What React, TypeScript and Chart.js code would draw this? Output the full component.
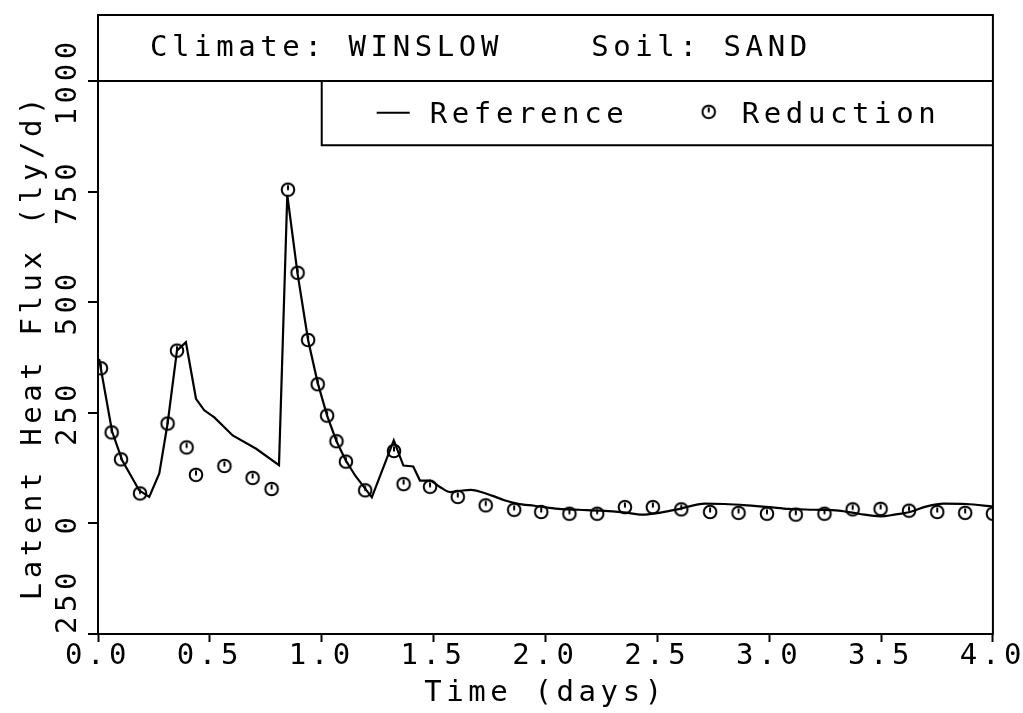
import React, { useEffect, useRef } from 'react';
import { Chart, registerables } from 'chart.js';

Chart.register(...registerables);

// ---- data ----
const refEarlyX = [0.005, 0.063, 0.108, 0.184, 0.229, 0.274, 0.311, 0.353, 0.393, 0.438, 0.475, 0.52, 0.602, 0.707, 0.809, 0.846, 0.892, 0.939, 0.982, 1.024, 1.066, 1.108, 1.15, 1.224, 1.322, 1.365, 1.409, 1.439, 1.489];
const refEarlyY = [372, 208, 143, 75, 60, 113, 226, 391, 410, 282, 256, 240, 199, 169, 132, 743, 565, 415, 318, 244, 186, 142, 108, 59, 188, 131, 129, 97, 97];

const refLateX = [1.489, 1.53, 1.574, 1.62, 1.667, 1.72, 1.761, 1.82, 1.873, 1.95, 2.06, 2.15, 2.247, 2.35, 2.434, 2.52, 2.6, 2.713, 2.8, 2.9, 3.0, 3.087, 3.2, 3.311, 3.4, 3.498, 3.56, 3.629, 3.7, 3.779, 3.88, 4.0];
const refLateY = [97, 82, 71, 74, 76, 70, 63, 52, 45, 40, 33, 31, 29, 25, 20, 25, 33, 45, 44, 41, 37, 33, 31, 29, 22, 16, 20, 26, 38, 45, 44, 38];

const redX = [0.013, 0.061, 0.103, 0.188, 0.311, 0.353, 0.396, 0.438, 0.565, 0.691, 0.776, 0.849, 0.892, 0.939, 0.982, 1.024, 1.066, 1.108, 1.194, 1.323, 1.366, 1.484, 1.608, 1.733, 1.86, 1.981, 2.107, 2.231, 2.355, 2.48, 2.607, 2.736, 2.863, 2.99, 3.119, 3.247, 3.373, 3.498, 3.625, 3.751, 3.876, 4.0];
const redY = [351, 206, 145, 68, 226, 391, 172, 110, 130, 103, 78, 755, 567, 415, 315, 244, 186, 140, 75, 164, 89, 83, 60, 41, 31, 26, 22, 22, 37, 37, 32, 26, 24, 22, 20, 22, 32, 33, 29, 26, 24, 22];

const xTickValues = [0, 0.5, 1, 1.5, 2, 2.5, 3, 3.5, 4];
const xTickLabels = ['0.0', '0.5', '1.0', '1.5', '2.0', '2.5', '3.0', '3.5', '4.0'];
const yTickValues = [-250, 0, 250, 500, 750, 1000];
const yTickLabels = ['250', '0', '250', '500', '750', '1000'];

const titleText = 'Climate: WINSLOW    Soil: SAND';
const legendLabels = ['Reference', 'Reduction'];
const xTitle = 'Time (days)';
const yTitle = 'Latent Heat Flux (ly/d)';

// ---- styles ----
const FAMILY = "'DejaVu Sans Mono', monospace";
const FSIZE = 29;
const LS = '4.6px';
const font = { family: FAMILY, size: FSIZE, lineHeight: 1.2 };

function yLabel(index: number): string {
  return index === 0 ? '   ' + yTickLabels[0] : yTickLabels[index];
}

function measureWidest(): number {
  const c = document.createElement('canvas');
  const g = c.getContext('2d') as any;
  g.font = `${FSIZE}px ${FAMILY}`;
  g.letterSpacing = LS;
  let w = 0;
  yTickLabels.forEach((_, i) => {
    w = Math.max(w, g.measureText(yLabel(i)).width);
  });
  return w;
}

function makeMarker(): HTMLCanvasElement {
  const c = document.createElement('canvas');
  c.width = 18;
  c.height = 18;
  const g = c.getContext('2d')!;
  g.strokeStyle = '#000';
  g.lineWidth = 2;
  g.beginPath();
  g.arc(9, 9, 6.3, 0, Math.PI * 2);
  g.stroke();
  g.beginPath();
  g.moveTo(9, 4.5);
  g.lineTo(9, 9.5);
  g.stroke();
  return c;
}

export default function App() {
  const ref = useRef<HTMLCanvasElement | null>(null);

  useEffect(() => {
    const canvas = ref.current;
    if (!canvas) return;
    const marker = makeMarker();
    const widest = measureWidest();
    const yTickPad = 98 - 10 - widest / 2 - 68;

    const framePlugin = {
      id: 'frame',
      beforeUpdate(chart: any) {
        chart.ctx.letterSpacing = LS;
      },
      beforeDraw(chart: any) {
        chart.ctx.letterSpacing = LS;
      },
      afterDraw(chart: any) {
        const { ctx, chartArea: a, scales } = chart;
        ctx.save();
        ctx.letterSpacing = LS;
        ctx.strokeStyle = '#000';
        ctx.lineWidth = 2;
        ctx.strokeRect(a.left, a.top, a.right - a.left, a.bottom - a.top);
        const y1000 = scales.y.getPixelForValue(1000);
        const lx = scales.x.getPixelForValue(1.0);
        const lb = y1000 + 64;
        ctx.beginPath();
        ctx.moveTo(lx, y1000);
        ctx.lineTo(lx, lb);
        ctx.lineTo(a.right, lb);
        ctx.stroke();
        ctx.font = `${FSIZE}px ${FAMILY}`;
        ctx.fillStyle = '#000';
        ctx.textAlign = 'left';
        ctx.textBaseline = 'alphabetic';
        ctx.fillText(titleText, a.left + 52, a.top + 41);
        const ly = y1000 + 31.5;
        ctx.beginPath();
        ctx.moveTo(lx + 55, ly);
        ctx.lineTo(lx + 88, ly);
        ctx.stroke();
        ctx.fillText(legendLabels[0], lx + 108, y1000 + 42);
        ctx.drawImage(marker, lx + 387 - 9, ly - 1 - 9);
        ctx.fillText(legendLabels[1], lx + 420, y1000 + 42);
        ctx.restore();
      },
    };

    const chart = new Chart(canvas, {
      type: 'line',
      data: {
        datasets: [
          {
            label: legendLabels[0],
            data: refEarlyX.map((x, i) => ({ x, y: refEarlyY[i] })),
            borderColor: '#000',
            borderWidth: 2.2,
            pointRadius: 0,
            tension: 0,
            fill: false,
          },
          {
            label: legendLabels[0],
            data: refLateX.map((x, i) => ({ x, y: refLateY[i] })),
            borderColor: '#000',
            borderWidth: 2.2,
            pointRadius: 0,
            cubicInterpolationMode: 'monotone',
            fill: false,
          },
          {
            label: legendLabels[1],
            data: redX.map((x, i) => ({ x, y: redY[i] })),
            showLine: false,
            pointStyle: marker as any,
            pointRadius: 8,
            borderColor: '#000',
            backgroundColor: 'rgba(0,0,0,0)',
          },
        ],
      } as any,
      options: {
        animation: false,
        responsive: false,
        maintainAspectRatio: false,
        layout: { padding: { top: 15, right: 30, left: 0, bottom: 0 }, autoPadding: false } as any,
        plugins: {
          legend: { display: false },
          title: { display: false },
          tooltip: { enabled: false },
        },
        scales: {
          x: {
            type: 'linear',
            min: 0,
            max: 4,
            afterBuildTicks: (s: any) => {
              s.ticks = xTickValues.map((v) => ({ value: v }));
            },
            afterFit: (s: any) => {
              s.height = 79;
            },
            ticks: {
              callback: (_v: any, i: number) => xTickLabels[i],
              font,
              color: '#000',
              padding: -3,
              maxRotation: 0,
              minRotation: 0,
              autoSkip: false,
            },
            grid: {
              drawOnChartArea: false,
              drawTicks: true,
              tickLength: 8,
              tickColor: '#000',
              tickWidth: 2,
            },
            border: { display: true, color: '#000', width: 2 },
            title: {
              display: true,
              text: xTitle,
              font,
              color: '#000',
              padding: { top: 0, bottom: 2 },
            },
          },
          y: {
            type: 'linear',
            min: -250,
            max: 1150,
            afterBuildTicks: (s: any) => {
              s.ticks = yTickValues.map((v) => ({ value: v }));
            },
            afterFit: (s: any) => {
              s.width = 98;
            },
            ticks: {
              callback: (_v: any, i: number) => yLabel(i),
              font,
              color: '#000',
              minRotation: 90,
              maxRotation: 90,
              crossAlign: 'center',
              padding: yTickPad,
              autoSkip: false,
            },
            grid: {
              drawOnChartArea: true,
              color: (c: any) => (c.tick && c.tick.value === 1000 ? '#000' : 'rgba(0,0,0,0)'),
              lineWidth: 2,
              drawTicks: true,
              tickLength: 10,
              tickColor: '#000',
              tickWidth: 2,
            },
            border: { display: true, color: '#000', width: 2 },
            title: {
              display: true,
              text: yTitle + '  ',
              font,
              color: '#000',
              padding: { top: 16, bottom: 0 },
            },
          },
        },
      } as any,
      plugins: [framePlugin],
    });

    return () => {
      chart.destroy();
    };
  }, []);

  return (
    <div style={{ position: 'fixed', left: 0, top: 0, width: 1023, height: 713, background: '#fff' }}>
      <canvas ref={ref} width={1023} height={713} style={{ display: 'block', width: 1023, height: 713 }} />
    </div>
  );
}
